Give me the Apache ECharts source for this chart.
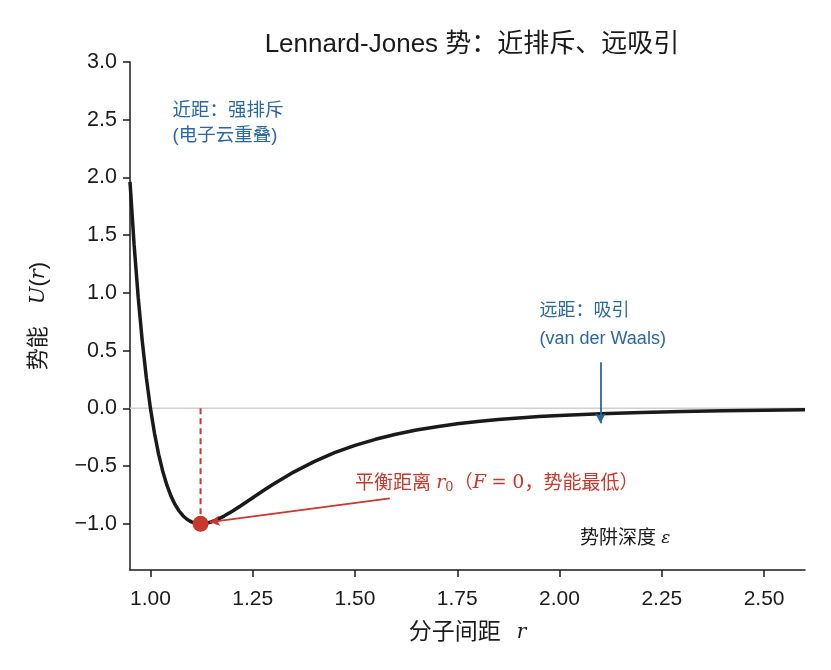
<!DOCTYPE html>
<html><head><meta charset="utf-8">
<script src="https://cdn.jsdelivr.net/npm/echarts@6/dist/echarts.min.js"></script>
<style>html,body{margin:0;padding:0;background:#fff}#c{width:831px;height:670px}</style>
</head><body><div id="c"></div>
<script>
// Values
const rValues = [0.95,0.96,0.97,0.98,0.99,1.00,1.01,1.02,1.03,1.04,1.05,1.06,1.07,1.08,1.09,1.10,1.11,1.12,1.1225,1.13,1.14,1.15,1.16,1.18,1.20,1.22,1.25,1.28,1.30,1.35,1.40,1.45,1.50,1.55,1.60,1.65,1.70,1.75,1.80,1.85,1.90,1.95,2.00,2.10,2.20,2.30,2.40,2.50,2.60];
const uValues = [1.961,1.418,0.963,0.582,0.264,0.000,-0.218,-0.398,-0.544,-0.663,-0.758,-0.832,-0.889,-0.932,-0.963,-0.983,-0.995,-1.000,-1.000,-0.998,-0.992,-0.982,-0.968,-0.933,-0.891,-0.845,-0.774,-0.703,-0.657,-0.552,-0.461,-0.384,-0.320,-0.268,-0.224,-0.188,-0.159,-0.134,-0.114,-0.097,-0.083,-0.071,-0.062,-0.046,-0.035,-0.027,-0.021,-0.016,-0.013];
const xTicks = [1.00,1.25,1.50,1.75,2.00,2.25,2.50];
const yTicks = [-1.0,-0.5,0.0,0.5,1.0,1.5,2.0,2.5,3.0];
const rMin = [1.1225, -1.0];
const eqArrow = [[1.585,-0.78],[1.145,-0.985]];
const vdwArrow = [[2.10,0.40],[2.10,-0.13]];
const repulseLabelPos = [1.054, 2.47];
const attractLabelPos = [1.951, 0.72];
const eqLabelPos = [1.50, -0.65];
const wellLabelPos = [2.05, -1.13];

const FONT = '"Liberation Sans","Noto Sans CJK SC",sans-serif';
const MATH = '"DejaVu Serif",serif';
const RED = '#c8382c';
const BLUE = '#2a67a2';
const INK = '#1a1a1a';

const chart = echarts.init(document.getElementById('c'), null, {renderer:'canvas'});
const curve = rValues.map((r,i)=>[r,uValues[i]]);

chart.setOption({
  animation:false,
  backgroundColor:'#fff',
  title:{text:'Lennard-Jones 势：近排斥、远吸引', left:467, top:27, textAlign:'center',
    textStyle:{fontFamily:FONT, fontSize:26, fontWeight:'normal', color:INK}},
  grid:{left:130, right:26, top:62, bottom:100},
  xAxis:{type:'value', min:0.95, max:2.6,
    name:'{c|分子间距}{g|}{m|r}', nameLocation:'middle', nameGap:51,
    nameTextStyle:{rich:{c:{fontFamily:FONT,fontSize:23,color:INK},g:{width:16},m:{fontFamily:MATH,fontStyle:'italic',fontSize:20,color:INK}}},
    axisLine:{onZero:false, lineStyle:{color:INK, width:1.5}},
    axisTick:{show:true, length:7, customValues:xTicks, lineStyle:{color:INK, width:1.5}},
    axisLabel:{customValues:xTicks, formatter:v=>v.toFixed(2), fontFamily:FONT, fontSize:21, color:INK, margin:19},
    splitLine:{show:false}},
  yAxis:{type:'value', min:-1.4, max:3.0,
    name:'{c|势能}{g|}{m|U}{c|(}{m|r}{c|)}', nameLocation:'middle', nameGap:80, nameRotate:90,
    nameTextStyle:{rich:{c:{fontFamily:FONT,fontSize:22,color:INK},g:{width:22},m:{fontFamily:MATH,fontStyle:'italic',fontSize:21,color:INK}}},
    axisLine:{show:true, onZero:false, lineStyle:{color:INK, width:1.5}},
    axisTick:{show:true, length:7, customValues:yTicks, lineStyle:{color:INK, width:1.5}},
    axisLabel:{customValues:yTicks, formatter:v=>{const s=Math.abs(v).toFixed(1);return (v<0?'\u2212':'')+s;}, fontFamily:FONT, fontSize:21.5, color:INK, margin:13},
    splitLine:{show:false}},
  series:[
    {type:'line', data:[[0.95,0],[2.6,0]], symbol:'none', silent:true, z:1,
      lineStyle:{color:'#d0d0d0', width:1.5}},
    {type:'line', data:[[rMin[0],0],rMin], symbol:'none', z:2,
      lineStyle:{color:RED, width:2, type:[6,4]}},
    {type:'line', data:curve, symbol:'none', z:3,
      lineStyle:{color:INK, width:3.5}},
    {type:'scatter', data:[rMin], symbolSize:16, z:5, itemStyle:{color:RED, opacity:1}},
    {type:'line', data:[], z:6,
      markLine:{silent:true, symbol:['none','arrow'], symbolSize:[8,10], label:{show:false},
        data:[
          [{coord:eqArrow[0], lineStyle:{color:RED,width:1.8,type:'solid'}},{coord:eqArrow[1]}],
          [{coord:vdwArrow[0], lineStyle:{color:BLUE,width:1.8,type:'solid'}},{coord:vdwArrow[1]}]
        ]}},
    {type:'scatter', symbolSize:0, z:7, silent:true, itemStyle:{opacity:1},
      data:[
        {value:repulseLabelPos, label:{show:true, position:'right', distance:0, align:'left', verticalAlign:'middle',
          formatter:'近距：强排斥\n(电子云重叠)', fontFamily:FONT, fontSize:18.5, lineHeight:25, color:BLUE}},
        {value:attractLabelPos, label:{show:true, position:'right', distance:0, align:'left', verticalAlign:'middle',
          formatter:'远距：吸引\n(van der Waals)', fontFamily:FONT, fontSize:18, lineHeight:28, color:BLUE}},
        {value:eqLabelPos, label:{show:true, position:'right', distance:0, align:'left', verticalAlign:'middle',
          formatter:'平衡距离 {m|r}{s|0}（{m|F}{o| = }{n|0}，势能最低）', fontFamily:FONT, fontSize:19, color:RED,
          rich:{m:{fontFamily:MATH,fontStyle:'italic',fontSize:19,color:RED},s:{fontFamily:MATH,fontSize:13,color:RED,verticalAlign:'bottom',padding:[9,0,0,0]},o:{fontFamily:MATH,fontSize:18,color:RED},n:{fontFamily:MATH,fontSize:19,color:RED}}}},
        {value:wellLabelPos, label:{show:true, position:'right', distance:0, align:'left', verticalAlign:'middle',
          formatter:'势阱深度 {m|ε}', fontFamily:FONT, fontSize:19, color:INK,
          rich:{m:{fontFamily:MATH,fontStyle:'italic',fontSize:17,color:INK}}}}
      ]}
  ]
});
</script></body></html>
